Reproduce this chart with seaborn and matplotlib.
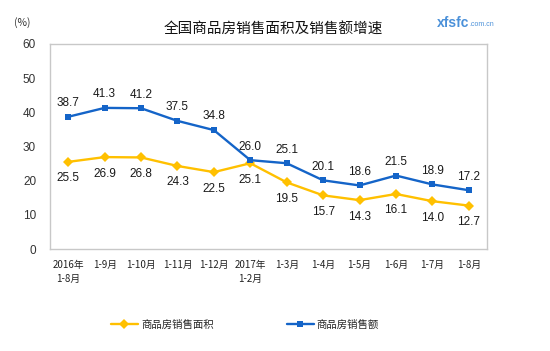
import matplotlib
matplotlib.use("Agg")
import matplotlib.pyplot as plt
import seaborn as sns
import pandas as pd
import numpy as np

categories = ["2016年\n1-8月", "1-9月", "1-10月", "1-11月", "1-12月", "2017年\n1-2月",
              "1-3月", "1-4月", "1-5月", "1-6月", "1-7月", "1-8月"]
area_growth = [25.5, 26.9, 26.8, 24.3, 22.5, 25.1, 19.5, 15.7, 14.3, 16.1, 14.0, 12.7]
sales_growth = [38.7, 41.3, 41.2, 37.5, 34.8, 26.0, 25.1, 20.1, 18.6, 21.5, 18.9, 17.2]
series_names = ["商品房销售面积", "商品房销售额"]
title = "全国商品房销售面积及销售额增速"

sns.set_theme(style="white")
plt.rcParams['font.family'] = ['Noto Sans CJK SC', 'DejaVu Sans']

yellow = "#FFC000"
blue = "#1464C8"

df = pd.DataFrame({
    "pos": list(range(len(categories))) * 2,
    "value": area_growth + sales_growth,
    "series": [series_names[0]] * len(categories) + [series_names[1]] * len(categories),
})

fig = plt.figure(figsize=(5.5, 3.51), dpi=100)
ax = fig.add_axes([50/550, 1-249/351, 437/550, 205/351])

sns.lineplot(data=df, x="pos", y="value", hue="series", style="series",
             palette={series_names[0]: yellow, series_names[1]: blue},
             markers={series_names[0]: "D", series_names[1]: "s"},
             dashes=False, markersize=5, linewidth=1.7, markeredgewidth=0,
             sort=False, ax=ax, legend=True)

num_font = dict(family=['Liberation Sans', 'DejaVu Sans'], fontsize=8.5, color="#1a1a1a")
for i, v in enumerate(sales_growth):
    ax.annotate(f"{v:.1f}", (i, v), xytext=(0, 5.5), textcoords="offset points",
                ha="center", va="bottom", **num_font)
for i, v in enumerate(area_growth):
    ax.annotate(f"{v:.1f}", (i, v), xytext=(0, -7.5), textcoords="offset points",
                ha="center", va="top", **num_font)

ax.set_xlim(-0.5, len(categories) - 0.5)
ax.set_ylim(0, 60)
ax.set_yticks(np.arange(0, 61, 10))
ax.set_yticklabels([str(t) for t in range(0, 61, 10)],
                   fontfamily=['Liberation Sans', 'DejaVu Sans'], fontsize=8.5, color="#333333")
ax.set_xticks(range(len(categories)))
ax.set_xticklabels(categories, fontsize=7, color="#222222", linespacing=1.5)
ax.set_xticks(np.arange(-0.5, len(categories), 1), minor=True)
ax.tick_params(axis="x", which="major", length=0, pad=8)
ax.tick_params(axis="x", which="minor", direction="in", length=3, color="#BFBFBF", width=0.8)
ax.tick_params(axis="y", length=0, pad=10)
ax.set_xlabel("")
ax.set_ylabel("")
for s in ax.spines.values():
    s.set_color("#C8C8C8")
    s.set_linewidth(1.0)

fig.text(22/550, 1-23/351, "(%)", fontsize=7.5, ha="center", va="center", color="#333333")
fig.text(273/550, 1-30/351, title, fontsize=10.5, ha="center", va="center", color="#111111")
fig.text(469/550, 1-23/351, "xfsfc", fontsize=10, fontweight="bold", ha="right", va="center",
         color="#4A90D9", family=['Liberation Sans', 'DejaVu Sans'])
fig.text(469/550, 1-25/351, ".com.cn", fontsize=5, ha="left", va="center",
         color="#4A90D9", family=['Liberation Sans', 'DejaVu Sans'])

handles, labels = ax.get_legend_handles_labels()
ax.legend(handles, labels, loc="center", bbox_to_anchor=(245/550, 1-325/351),
          bbox_transform=fig.transFigure, ncol=2, frameon=False, fontsize=7.5,
          columnspacing=7, handlelength=2.6, handletextpad=0.3)

fig.savefig("out.png", dpi=100)
